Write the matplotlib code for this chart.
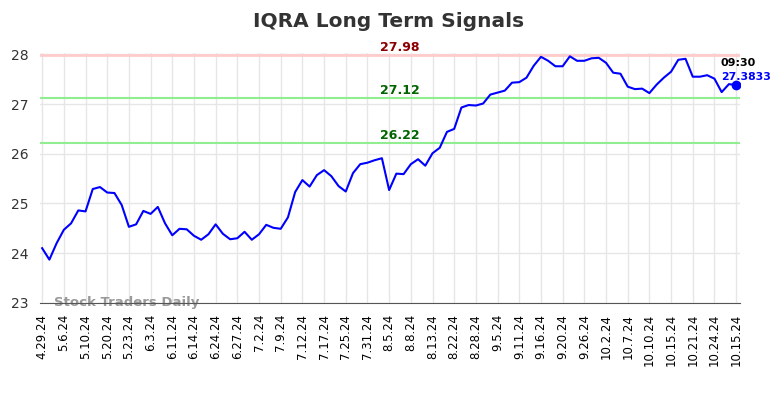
import matplotlib
matplotlib.use("Agg")
import matplotlib.pyplot as plt

# daily signal values
prices = [24.10, 23.87, 24.20, 24.47, 24.60, 24.86, 24.84, 25.29, 25.33, 25.22,
          25.21, 24.97, 24.53, 24.58, 24.85, 24.79, 24.93, 24.60, 24.36, 24.49,
          24.48, 24.35, 24.27, 24.38, 24.58, 24.39, 24.28, 24.30, 24.43, 24.27,
          24.38, 24.57, 24.51, 24.49, 24.72, 25.23, 25.47, 25.34, 25.57, 25.67,
          25.55, 25.35, 25.24, 25.61, 25.79, 25.82, 25.87, 25.91, 25.27, 25.60,
          25.59, 25.79, 25.89, 25.76, 26.01, 26.12, 26.44, 26.50, 26.93, 26.98,
          26.97, 27.01, 27.19, 27.23, 27.27, 27.43, 27.44, 27.53, 27.77, 27.95,
          27.87, 27.76, 27.76, 27.96, 27.87, 27.87, 27.92, 27.93, 27.83, 27.63,
          27.61, 27.35, 27.30, 27.31, 27.22, 27.39, 27.53, 27.65, 27.89, 27.91,
          27.55, 27.55, 27.58, 27.51, 27.24, 27.40, 27.3833]

tick_labels = ["4.29.24", "5.6.24", "5.10.24", "5.20.24", "5.23.24", "6.3.24",
               "6.11.24", "6.14.24", "6.24.24", "6.27.24", "7.2.24", "7.9.24",
               "7.12.24", "7.17.24", "7.25.24", "7.31.24", "8.5.24", "8.8.24",
               "8.13.24", "8.22.24", "8.28.24", "9.5.24", "9.11.24", "9.16.24",
               "9.20.24", "9.26.24", "10.2.24", "10.7.24", "10.10.24", "10.15.24",
               "10.21.24", "10.24.24", "10.15.24"]

upper = 27.98
mid = 27.12
lower = 26.22
last_time = "09:30"

fig = plt.figure(figsize=(7.84, 3.98), dpi=100)
ax = fig.add_axes([0.051, 0.239, 0.893, 0.627])

x = list(range(len(prices)))
ax.plot(x, prices, color="blue", lw=1.5, zorder=3)
ax.plot(x[-1], prices[-1], "o", color="blue", ms=6, zorder=4)

ax.axhline(upper, color="#ffcccc", lw=2, zorder=2)
ax.axhline(mid, color="#90ee90", lw=1.5, zorder=2)
ax.axhline(lower, color="#90ee90", lw=1.5, zorder=2)

xc = 49.5
ax.text(xc, upper + 0.02, f"{upper:.2f}", color="darkred", fontsize=9, fontweight="bold",
        ha="center", va="bottom")
ax.text(xc, mid + 0.02, f"{mid:.2f}", color="darkgreen", fontsize=9, fontweight="bold",
        ha="center", va="bottom")
ax.text(xc, lower + 0.02, f"{lower:.2f}", color="darkgreen", fontsize=9, fontweight="bold",
        ha="center", va="bottom")

ax.text(x[-1] - 2.1, 27.82, last_time, color="black", fontsize=8, fontweight="bold",
        ha="left", va="center")
ax.text(x[-1] - 2.1, 27.55, f"{prices[-1]:.4f}", color="blue", fontsize=7.8, fontweight="bold",
        ha="left", va="center")

ax.text(1.6, 23.0, "Stock Traders Daily", color="#999999", fontsize=9.5, fontweight="bold",
        ha="left", va="center", zorder=1)

ax.set_xlim(-0.3, len(prices) - 0.45)
ax.set_ylim(23, 28.02)
ax.set_yticks([23, 24, 25, 26, 27, 28])
ax.set_xticks(x[::3])
ax.set_xticklabels(tick_labels, rotation=90, fontsize=8.5)
ax.tick_params(axis="y", labelsize=10, length=0, pad=8, colors="#333333")
ax.tick_params(axis="x", length=0, pad=8)

ax.grid(True, color="#e6e6e6", lw=1)
ax.set_axisbelow(True)
for s in ["top", "right", "left"]:
    ax.spines[s].set_visible(False)
ax.spines["bottom"].set_color("#555555")

fig.suptitle("IQRA Long Term Signals", x=0.496, y=0.97, fontsize=14.5, fontweight="bold",
             color="#333333")

fig.savefig("out.png", dpi=100)
